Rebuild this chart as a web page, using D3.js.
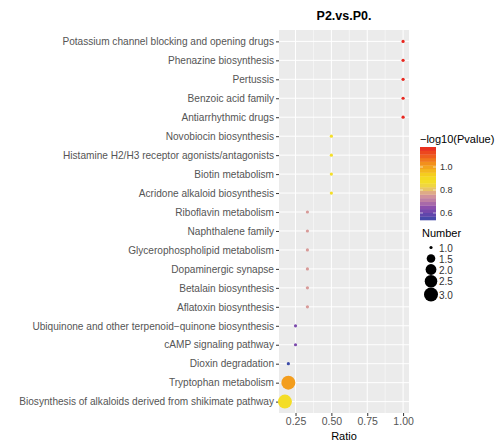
<!DOCTYPE html>
<html>
<head>
<meta charset="utf-8">
<script src="https://cdn.jsdelivr.net/npm/d3@7"></script>
<style>
  body { margin: 0; background: #fff; }
  svg { font-family: "Liberation Sans", Arial, sans-serif; }
</style>
</head>
<body>
<svg id="chart"></svg>
<script>
// pathway terms, top to bottom
const terms = [
  "Potassium channel blocking and opening drugs",
  "Phenazine biosynthesis",
  "Pertussis",
  "Benzoic acid family",
  "Antiarrhythmic drugs",
  "Novobiocin biosynthesis",
  "Histamine H2/H3 receptor agonists/antagonists",
  "Biotin metabolism",
  "Acridone alkaloid biosynthesis",
  "Riboflavin metabolism",
  "Naphthalene family",
  "Glycerophospholipid metabolism",
  "Dopaminergic synapse",
  "Betalain biosynthesis",
  "Aflatoxin biosynthesis",
  "Ubiquinone and other terpenoid\u2212quinone biosynthesis",
  "cAMP signaling pathway",
  "Dioxin degradation",
  "Tryptophan metabolism",
  "Biosynthesis of alkaloids derived from shikimate pathway"
];
const ratios = [1, 1, 1, 1, 1, 0.5, 0.5, 0.5, 0.5, 0.333, 0.333, 0.333, 0.333, 0.333, 0.333, 0.25, 0.25, 0.2, 0.2, 0.176];
const logP = [1.174, 1.174, 1.174, 1.174, 1.174, 0.875, 0.875, 0.875, 0.875, 0.76, 0.76, 0.76, 0.76, 0.76, 0.76, 0.625, 0.625, 0.539, 1.01, 0.88];
const numbers = [1, 1, 1, 1, 1, 1, 1, 1, 1, 1, 1, 1, 1, 1, 1, 1, 1, 1, 3, 3];

const xTicks = [0.25, 0.5, 0.75, 1.0];
const xMinor = [0.125, 0.375, 0.625, 0.875];
const colorTicks = [0.6, 0.8, 1.0];
const sizeBreaks = [1.0, 1.5, 2.0, 2.5, 3.0];

const colorStops = [0.539, 0.6, 0.65, 0.7, 0.76, 0.8, 0.86, 0.92, 0.98, 1.04, 1.1, 1.174];
const colorVals = ["#3b4ba8", "#6b45ac", "#8c4fac", "#b878a8", "#d89a98", "#e6c070", "#f3e02a", "#f5d81e", "#f4b01e", "#f28a1c", "#ee5a1e", "#e8261e"];

const W = 500, H = 441;
const panel = { left: 279, right: 409, top: 30, bottom: 413 };

const svg = d3.select("#chart").attr("width", W).attr("height", H);

const x = d3.scaleLinear()
  .domain([0.176 - 0.0412, 1 + 0.0412])
  .range([panel.left, panel.right]);

const rowStep = (panel.bottom - panel.top) / (terms.length - 1 + 1.2);
const y = d3.scalePoint()
  .domain(terms)
  .range([panel.top + 0.6 * rowStep, panel.bottom - 0.6 * rowStep]);

const color = d3.scaleLinear().domain(colorStops).range(colorVals);

// ggplot area scale: sqrt of rescaled value
const sizeRescale = d3.scaleLinear().domain([1, 3]).range([0, 1]);
const diam = d3.scaleLinear().domain([0, 1]).range([3.2, 14]);
const radius = v => diam(Math.sqrt(sizeRescale(v))) / 2;

// panel background
svg.append("rect")
  .attr("x", panel.left).attr("y", panel.top)
  .attr("width", panel.right - panel.left)
  .attr("height", panel.bottom - panel.top)
  .attr("fill", "#ebebeb");

const grid = svg.append("g");
grid.selectAll(".minor")
  .data(xMinor)
  .join("line")
  .attr("x1", d => x(d)).attr("x2", d => x(d))
  .attr("y1", panel.top).attr("y2", panel.bottom)
  .attr("stroke", "#fff").attr("stroke-width", 0.5);
grid.selectAll(".vmajor")
  .data(xTicks)
  .join("line")
  .attr("x1", d => x(d)).attr("x2", d => x(d))
  .attr("y1", panel.top).attr("y2", panel.bottom)
  .attr("stroke", "#fff").attr("stroke-width", 1);
grid.selectAll(".hmajor")
  .data(terms)
  .join("line")
  .attr("x1", panel.left).attr("x2", panel.right)
  .attr("y1", d => y(d)).attr("y2", d => y(d))
  .attr("stroke", "#fff").attr("stroke-width", 1);

// axes
const yAxis = d3.axisLeft(y).tickSize(3).tickPadding(2);
const yg = svg.append("g")
  .attr("transform", `translate(${panel.left},0)`)
  .call(yAxis);
yg.select(".domain").remove();
yg.selectAll("line").attr("stroke", "#333");
yg.selectAll("text").attr("fill", "#555").style("font-size", "10.1px");

const xAxis = d3.axisBottom(x).tickValues(xTicks).tickFormat(d3.format(".2f")).tickSize(3).tickPadding(2);
const xg = svg.append("g")
  .attr("transform", `translate(0,${panel.bottom})`)
  .call(xAxis);
xg.select(".domain").remove();
xg.selectAll("line").attr("stroke", "#333");
xg.selectAll("text").attr("fill", "#555").style("font-size", "10.5px");

// points
svg.append("g")
  .selectAll("circle")
  .data(terms.map((t, i) => ({ term: t, ratio: ratios[i], p: logP[i], n: numbers[i] })))
  .join("circle")
  .attr("cx", d => x(d.ratio))
  .attr("cy", d => y(d.term))
  .attr("r", d => radius(d.n))
  .attr("fill", d => color(d.p));

// titles
svg.append("text")
  .attr("x", (panel.left + panel.right) / 2).attr("y", 20)
  .attr("text-anchor", "middle")
  .style("font-size", "12.5px").style("font-weight", "bold")
  .text("P2.vs.P0.");

svg.append("text")
  .attr("x", (panel.left + panel.right) / 2).attr("y", 440)
  .attr("text-anchor", "middle")
  .style("font-size", "11px")
  .text("Ratio");

svg.append("text")
  .attr("transform", `translate(-1,${(panel.top + panel.bottom) / 2 - 12}) rotate(-90)`)
  .attr("text-anchor", "middle")
  .style("font-size", "11px")
  .text("Terms");

// colour legend
const cb = { x: 420, y: 147, w: 16, h: 73 };
svg.append("text")
  .attr("x", 420).attr("y", 143)
  .style("font-size", "11px")
  .text("\u2212log10(Pvalue)");

const cy = d3.scaleLinear().domain([0.539, 1.174]).range([cb.y + cb.h, cb.y]);
const nbin = 20;
const bins = d3.range(nbin).map(i => 0.539 + (1.174 - 0.539) * (i + 0.5) / nbin);
svg.append("g")
  .selectAll("rect")
  .data(bins)
  .join("rect")
  .attr("x", cb.x)
  .attr("y", d => cy(d) - cb.h / nbin / 2)
  .attr("width", cb.w)
  .attr("height", cb.h / nbin + 0.3)
  .attr("fill", d => color(d));

const cbTicks = svg.append("g");
cbTicks.selectAll("line.l")
  .data(colorTicks)
  .join("line")
  .attr("x1", cb.x).attr("x2", cb.x + 3)
  .attr("y1", d => cy(d)).attr("y2", d => cy(d))
  .attr("stroke", "#fff").attr("stroke-width", 0.6);
cbTicks.selectAll("line.r")
  .data(colorTicks)
  .join("line")
  .attr("x1", cb.x + cb.w - 3).attr("x2", cb.x + cb.w)
  .attr("y1", d => cy(d)).attr("y2", d => cy(d))
  .attr("stroke", "#fff").attr("stroke-width", 0.6);
cbTicks.selectAll("text")
  .data(colorTicks)
  .join("text")
  .attr("x", cb.x + cb.w + 4)
  .attr("y", d => cy(d) + 3)
  .style("font-size", "9px")
  .attr("fill", "#333")
  .text(d => d.toFixed(1));

// size legend
svg.append("text")
  .attr("x", 422).attr("y", 237)
  .style("font-size", "11px")
  .text("Number");

let keyY = 242;
const keys = sizeBreaks.map(v => {
  const h = Math.max(11, diam(Math.sqrt(sizeRescale(v))));
  const k = { v: v, cy: keyY + h / 2 };
  keyY += h;
  return k;
});
const sg = svg.append("g");
sg.selectAll("circle")
  .data(keys)
  .join("circle")
  .attr("cx", 431)
  .attr("cy", d => d.cy)
  .attr("r", d => radius(d.v))
  .attr("fill", "#000");
sg.selectAll("text")
  .data(keys)
  .join("text")
  .attr("x", 439)
  .attr("y", d => d.cy + 4)
  .style("font-size", "10px")
  .attr("fill", "#333")
  .text(d => d.v.toFixed(1));
</script>
</body>
</html>
